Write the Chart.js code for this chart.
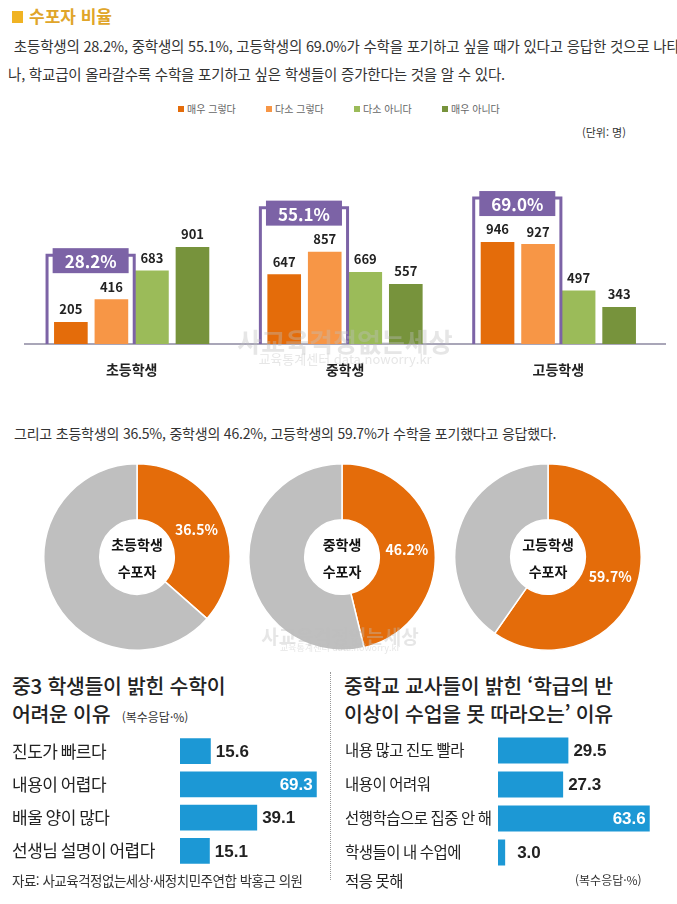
<!DOCTYPE html>
<html lang="ko">
<head>
<meta charset="utf-8">
<script src="https://cdn.jsdelivr.net/npm/chart.js"></script>
<style>
  html, body { margin: 0; padding: 0; background: #fff; }
  body { width: 677px; height: 904px; position: relative; overflow: hidden;
         font-family: "Noto Sans CJK KR", sans-serif; color: #333; }
  .abs { position: absolute; white-space: nowrap; }
  canvas { position: absolute; }
  .txt { font-size: 14.5px; line-height: 18px; color: #333; letter-spacing: -0.2px; }
  .legend span.sq { display: inline-block; width: 6px; height: 6px; margin-right: 3px; vertical-align: 1px; }
  .legend { font-size: 10px; color: #666; }
  .head { font-size: 20.5px; line-height: 28px; font-weight: 500; color: #222; letter-spacing: -0.3px; }
  .note { font-size: 12px; font-weight: 400; color: #333; letter-spacing: 0; }
  .mark { color: rgba(190,190,190,0.38); z-index: 5; text-align: center; }
</style>
</head>
<body>

<div class="abs" style="left:12px; top:11px; width:11px; height:12px; background:#f0b323;"></div>
<div class="abs" style="left:29px; top:3px; font-size:17px; font-weight:700; color:#e0a52a;">수포자 비율</div>
<div class="abs txt" style="left:10px; top:37px;">&nbsp;초등학생의 28.2%, 중학생의 55.1%, 고등학생의 69.0%가 수학을 포기하고 싶을 때가 있다고 응답한 것으로 나타</div>
<div class="abs txt" style="left:8px; top:65px;">나, 학교급이 올라갈수록 수학을 포기하고 싶은 학생들이 증가한다는 것을 알 수 있다.</div>

<div id="legend" class="abs legend" style="left:0; top:101px;"></div>
<div class="abs" style="left:582px; top:124px; font-size:11px; color:#333;">(단위: 명)</div>

<canvas id="barChart" width="677" height="245" style="left:0; top:140px;"></canvas>
<div class="abs mark" style="left:230px; top:322px; width:230px; font-size:26px; font-weight:700;">사교육걱정없는세상</div>
<div class="abs mark" style="left:230px; top:349px; width:230px; font-size:13px;">교육통계센터 data.noworry.kr</div>

<div class="abs txt" style="left:14px; top:424px; font-size:14px;">그리고 초등학생의 36.5%, 중학생의 46.2%, 고등학생의 59.7%가 수학을 포기했다고 응답했다.</div>

<canvas id="pie0" width="190" height="190" style="left:42px; top:462px;"></canvas>
<canvas id="pie1" width="190" height="190" style="left:247px; top:462px;"></canvas>
<canvas id="pie2" width="190" height="190" style="left:453px; top:462px;"></canvas>
<div class="abs mark" style="left:255px; top:622px; width:170px; font-size:19px; font-weight:700;">사교육걱정없는세상</div>
<div class="abs mark" style="left:255px; top:641px; width:170px; font-size:9px;">교육통계센터 data.noworry.kr</div>

<div class="abs head" style="left:12px; top:671px;">중3 학생들이 밝힌 수학이<br>어려운 이유 <span class="note" style="margin-left:6px;">(복수응답·%)</span></div>
<div class="abs head" style="left:344px; top:671px;">중학교 교사들이 밝힌 ‘학급의 반<br>이상이 수업을 못 따라오는’ 이유</div>
<div class="abs" style="left:330px; top:672px; height:208px; border-left:1px dotted #999;"></div>

<canvas id="studentChart" width="330" height="150" style="left:0; top:725px;"></canvas>
<canvas id="teacherChart" width="347" height="165" style="left:330px; top:725px;"></canvas>

<div class="abs" style="left:12px; top:870px; font-size:13.5px; color:#333; letter-spacing:-0.5px;">자료: 사교육걱정없는세상·새정치민주연합 박홍근 의원</div>
<div class="abs note" style="left:575px; top:871px;">(복수응답·%)</div>

<script>
// 막대그래프: 수학을 포기하고 싶을 때가 있나 (단위: 명)
const schoolLevels = ["초등학생", "중학생", "고등학생"];
const answerLabels = ["매우 그렇다", "다소 그렇다", "다소 아니다", "매우 아니다"];
const answerColors = ["#e46c0a", "#f79646", "#9bbb59", "#77933c"];
const stronglyYes = [205, 647, 946];
const somewhatYes = [416, 857, 927];
const somewhatNo = [683, 669, 497];
const stronglyNo = [901, 557, 343];
const wishRates = ["28.2%", "55.1%", "69.0%"];

// 도넛: 수학을 포기했다
const gaveUpLabels = [["초등학생", "수포자"], ["중학생", "수포자"], ["고등학생", "수포자"]];
const gaveUpRates = [36.5, 46.2, 59.7];

// 가로막대: 이유 (복수응답, %)
const studentReasons = ["진도가 빠르다", "내용이 어렵다", "배울 양이 많다", "선생님 설명이 어렵다"];
const studentValues = [15.6, 69.3, 39.1, 15.1];
const teacherReasons = ["내용 많고 진도 빨라", "내용이 어려워", "선행학습으로 집중 안 해", ["학생들이 내 수업에", "적응 못해"]];
const teacherValues = [29.5, 27.3, 63.6, 3.0];

const FONT = "'Noto Sans CJK KR', sans-serif";
Chart.defaults.font.family = FONT;
Chart.defaults.animation = false;

// html legend
document.getElementById("legend").innerHTML = answerLabels.map((l, i) =>
    `<span class="abs" style="left:${178 + i * 88}px; top:0;"><span class="sq" style="background:${answerColors[i]}"></span>${l}</span>`
).join("");

const purple = "#7c63a6";

const barDecor = {
    id: "barDecor",
    afterDatasetsDraw(chart){
        const { ctx, chartArea, scales } = chart;
        ctx.save();

        // 수치
        ctx.font = `bold 13px ${FONT}`;
        ctx.fillStyle = "#222";
        ctx.textAlign = "center";
        ctx.textBaseline = "bottom";
        chart.data.datasets.forEach((ds, i) => {
            chart.getDatasetMeta(i).data.forEach((bar, j) => {
                ctx.fillText(ds.data[j], bar.x, bar.y - 6);
            });
        });

        // 그렇다(매우+다소) 묶음 표시
        const m0 = chart.getDatasetMeta(0).data;
        const m1 = chart.getDatasetMeta(1).data;
        m0.forEach((b0, j) => {
            const b1 = m1[j];
            const left = b0.x - b0.width / 2 - 7;
            const right = b1.x + b1.width / 2 + 6;
            const top = Math.min(b0.y, b1.y) - 44;
            const bottom = chartArea.bottom;
            ctx.strokeStyle = purple;
            ctx.lineWidth = 3;
            ctx.beginPath();
            ctx.moveTo(left, bottom);
            ctx.lineTo(left, top);
            ctx.lineTo(right, top);
            ctx.lineTo(right, bottom);
            ctx.stroke();

            const cx = (left + right) / 2;
            const bw = 76, bh = 25;
            ctx.fillStyle = purple;
            ctx.fillRect(cx - bw / 2, top - 7, bw, bh);
            ctx.fillStyle = "#fff";
            ctx.font = `bold 17px ${FONT}`;
            ctx.textBaseline = "middle";
            ctx.fillText(wishRates[j], cx, top - 7 + bh / 2 + 1);
        });

        // 학교급
        ctx.fillStyle = "#222";
        ctx.font = `bold 14px ${FONT}`;
        ctx.textBaseline = "middle";
        schoolLevels.forEach((l, j) => {
            ctx.fillText(l, scales.x.getPixelForValue(j), chartArea.bottom + 26);
        });
        ctx.restore();
    }
};

new Chart(document.getElementById("barChart"), {
    type: "bar",
    data: {
        labels: schoolLevels,
        datasets: [stronglyYes, somewhatYes, somewhatNo, stronglyNo].map((d, i) => ({
            label: answerLabels[i],
            data: d,
            backgroundColor: answerColors[i],
            categoryPercentage: 0.76,
            barPercentage: 0.83
        }))
    },
    options: {
        responsive: false,
        layout: { padding: { left: 25, right: 12, top: 10, bottom: 41 } },
        plugins: { legend: { display: false }, tooltip: { enabled: false } },
        scales: {
            x: {
                grid: { display: false, drawTicks: false },
                ticks: { display: false },
                border: { display: true, color: "#a9a6b8", width: 2 }
            },
            y: { display: false, min: 0, max: 1800 }
        }
    },
    plugins: [barDecor]
});

// 도넛
const donutText = {
    id: "donutText",
    afterDatasetsDraw(chart, args, opts){
        const { ctx, chartArea } = chart;
        const cx = (chartArea.left + chartArea.right) / 2;
        const cy = (chartArea.top + chartArea.bottom) / 2;
        ctx.save();
        ctx.textAlign = "center";
        ctx.textBaseline = "middle";
        ctx.fillStyle = "#111";
        ctx.font = `bold 14px ${FONT}`;
        ctx.fillText(opts.lines[0], cx, cy - 12);
        ctx.fillText(opts.lines[1], cx, cy + 15);

        const arc = chart.getDatasetMeta(0).data[0];
        const p = arc.tooltipPosition();
        ctx.fillStyle = "#fff";
        ctx.font = `bold 14px ${FONT}`;
        ctx.fillText(chart.data.datasets[0].data[0].toFixed(1) + "%", p.x, p.y);
        ctx.restore();
    }
};

gaveUpRates.forEach((rate, i) => {
    new Chart(document.getElementById("pie" + i), {
        type: "doughnut",
        data: {
            labels: ["수포자", "기타"],
            datasets: [{
                data: [rate, +(100 - rate).toFixed(1)],
                backgroundColor: ["#e46c0a", "#bfbfbf"],
                borderColor: "#fff",
                borderWidth: 1.5
            }]
        },
        options: {
            responsive: false,
            cutout: "40%",
            layout: { padding: 1 },
            plugins: {
                legend: { display: false },
                tooltip: { enabled: false },
                donutText: { lines: gaveUpLabels[i] }
            }
        },
        plugins: [donutText]
    });
});

// 가로막대
const hbarText = {
    id: "hbarText",
    afterDatasetsDraw(chart, args, opts){
        const { ctx } = chart;
        const ds = chart.data.datasets[0];
        const max = Math.max(...ds.data);
        ctx.save();
        ctx.textBaseline = "middle";
        chart.getDatasetMeta(0).data.forEach((bar, j) => {
            // 항목명
            const label = chart.data.labels[j];
            const lines = Array.isArray(label) ? label : [label];
            ctx.fillStyle = "#222";
            ctx.textAlign = "left";
            ctx.font = `${opts.labelSize}px ${FONT}`;
            ctx.letterSpacing = "-0.5px";
            lines.forEach((ln, k) => ctx.fillText(ln, opts.labelX, bar.y + k * 29));
            ctx.letterSpacing = "0px";

            // 값
            const v = ds.data[j];
            ctx.font = "bold 17px 'Liberation Sans Narrow', 'Liberation Sans', sans-serif";
            if(v === max){
                ctx.fillStyle = "#fff";
                ctx.textAlign = "right";
                ctx.fillText(v.toFixed(1), bar.x - 4, bar.y + 1);
            } else {
                ctx.fillStyle = "#222";
                ctx.textAlign = "left";
                ctx.fillText(v.toFixed(1), bar.x + (v < 5 ? 12 : 5), bar.y + 1);
            }
        });
        ctx.restore();
    }
};

function reasonChart(id, labels, values, xMax, padding, labelX, labelSize){
    return new Chart(document.getElementById(id), {
        type: "bar",
        data: {
            labels,
            datasets: [{
                data: values,
                backgroundColor: "#1c98d5",
                categoryPercentage: 1,
                barPercentage: 0.77
            }]
        },
        options: {
            responsive: false,
            indexAxis: "y",
            layout: { padding },
            plugins: {
                legend: { display: false },
                tooltip: { enabled: false },
                hbarText: { labelX, labelSize }
            },
            scales: {
                x: { display: false, min: 0, max: xMax },
                y: { display: false }
            }
        },
        plugins: [hbarText]
    });
}

reasonChart("studentChart", studentReasons, studentValues, 75,
    { left: 180, right: 2, top: 9.5, bottom: 7.5 }, 12, 17);
reasonChart("teacherChart", teacherReasons, teacherValues, 70,
    { left: 168, right: 12, top: 8.5, bottom: 20.5 }, 15, 15.5);
</script>
</body>
</html>
